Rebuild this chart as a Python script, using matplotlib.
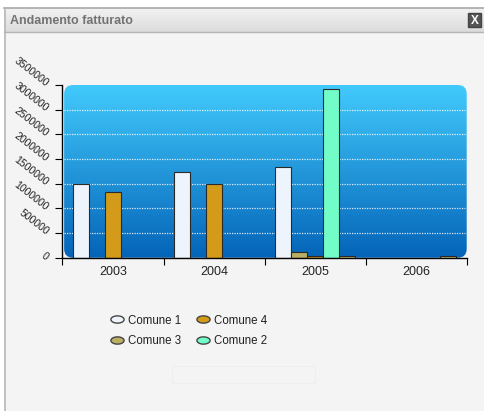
import numpy as np
import matplotlib
matplotlib.use("Agg")
import matplotlib.pyplot as plt
from matplotlib.patches import FancyBboxPatch, Rectangle
from matplotlib.path import Path
from matplotlib.lines import Line2D

# ---- data ----
years = ["2003", "2004", "2005", "2006"]
comune1 = [1500000, 1740000, 1830000, 0]
comune3 = [0, 0, 110000, 0]
comune4 = [1330000, 1500000, 40000, 0]
comune2 = [0, 0, 3415000, 0]
comune5 = [0, 0, 40000, 40000]   # extra unlabeled series (5th slot)
series_names = ["Comune 1", "Comune 3", "Comune 4", "Comune 2", None]
series_values = [comune1, comune3, comune4, comune2, comune5]
series_colors = ["#eef4fc", "#b9ae62", "#d49a1a", "#72fcc8", "#c9ba6c"]
y_ticks = [0, 500000, 1000000, 1500000, 2000000, 2500000, 3000000, 3500000]

W, H = 484, 411
fig = plt.figure(figsize=(W / 100, H / 100), dpi=100)
fig.patch.set_facecolor("#f4f4f4")

def fx(px):
    return px / W

def fy(py):
    return 1 - py / H

# ---- window chrome ----
fig.patches.append(Rectangle((0, fy(8)), 1, 1 - fy(8), transform=fig.transFigure,
                             facecolor="white", edgecolor="none", zorder=0))
fig.patches.append(Rectangle((0, 0), fx(4), 1, transform=fig.transFigure,
                             facecolor="white", edgecolor="none", zorder=0))
# title bar gradient
tb = fig.add_axes([fx(4), fy(32), 1 - fx(4), fy(8) - fy(32)])
grad_tb = np.linspace(0, 1, 64)[:, None]
c_top = np.array([0.95, 0.95, 0.95]); c_bot = np.array([0.86, 0.86, 0.86])
tb.imshow(c_top + (c_bot - c_top) * grad_tb[:, :, None] * np.ones((1, 2, 3)), aspect="auto",
          extent=[0, 1, 0, 1])
tb.set_xlim(0, 1); tb.set_ylim(0, 1); tb.axis("off")
fig.add_artist(Line2D([fx(4), 1], [fy(8.5), fy(8.5)], transform=fig.transFigure, color="#a8a8a8", lw=1.2))
fig.add_artist(Line2D([fx(4), 1], [fy(32), fy(32)], transform=fig.transFigure, color="#b4b4b4", lw=1))
fig.add_artist(Line2D([fx(4.5), fx(4.5)], [0, fy(8.5)], transform=fig.transFigure, color="#b8b8b8", lw=1.2))
fig.text(fx(10), fy(20.5), "Andamento fatturato", fontsize=9, fontweight="bold",
         family="Liberation Sans", color="#737373", ha="left", va="center")
fig.patches.append(Rectangle((fx(468), fy(27)), fx(13), fy(13) - fy(27), transform=fig.transFigure,
                             facecolor="#555555", edgecolor="#444444", zorder=2))
fig.text(fx(474.5), fy(20.5), "X", fontsize=8.5, fontweight="bold", family="Liberation Sans",
         color="white", ha="center", va="center", zorder=3)
# faint box near bottom
fig.patches.append(Rectangle((fx(172), fy(383)), fx(143), fy(366) - fy(383), transform=fig.transFigure,
                             facecolor="none", edgecolor="#eeeeee", lw=0.6, zorder=1))

# ---- chart axes ----
left, right, top, bottom = 62.5, 466.7, 85, 257.7
ax = fig.add_axes([fx(left), fy(bottom), fx(right) - fx(left), fy(top) - fy(bottom)])
ax.set_facecolor("none")
ax.set_xlim(0, len(years))
ax.set_ylim(0, 3500000)

aspect = ((right - left) / (bottom - top))
patch = FancyBboxPatch((0.004, 0), 0.996, 1, boxstyle="round,pad=0,rounding_size=0.022",
                       mutation_aspect=aspect, transform=ax.transAxes,
                       facecolor="none", edgecolor="none")
ax.add_patch(patch)
g = np.linspace(0, 1, 256)[:, None, None]
ctop = np.array([66, 202, 252]) / 255
cbot = np.array([4, 100, 184]) / 255
img = ctop + (cbot - ctop) * g
im = ax.imshow(img, aspect="auto", extent=[0, 1, 0, 1], transform=ax.transAxes, zorder=0)
im.set_clip_path(patch)

for yv in y_ticks[1:-1]:
    ax.axhline(yv, xmin=0.004, xmax=0.995, color="white", lw=0.9, ls=(0, (1, 1)), alpha=0.85, zorder=1)

nser = len(series_values)
bw = 16 / 101
x = np.arange(len(years)) + 0.5
for k, (vals, col) in enumerate(zip(series_values, series_colors)):
    v = np.array(vals, dtype=float)
    v[v == 0] = np.nan
    ax.bar(x + (k - (nser - 1) / 2) * bw, v, width=bw, color=col, edgecolor="#2a2a2a",
           lw=0.8, zorder=3)

for s in ["top", "right"]:
    ax.spines[s].set_visible(False)
for s in ["left", "bottom"]:
    ax.spines[s].set_color("black")
    ax.spines[s].set_linewidth(1)
    ax.spines[s].set_zorder(4)

ax.set_xticks(np.arange(len(years) + 1))
ax.set_xticklabels([])
ax.set_xticks(x, minor=True)
ax.set_xticklabels(years, minor=True, fontsize=9, family="Liberation Sans", color="#222222")
ax.tick_params(axis="x", which="major", length=5, direction="out", color="black")
ax.tick_params(axis="x", which="minor", length=0, pad=6)

ax.set_yticks(y_ticks)
ax.set_yticklabels([str(v) for v in y_ticks], fontsize=7.6, family="Liberation Sans",
                   color="#222222", rotation=-38, rotation_mode="anchor", ha="right", va="center")
ax.tick_params(axis="y", length=5, direction="out", color="black", pad=6)

# ---- legend ----
t = np.linspace(0, 2 * np.pi, 40)
ell = Path(np.column_stack([np.cos(t), 0.55 * np.sin(t)]), closed=True)
handles = []
labels = []
for name, col in zip(series_names, series_colors):
    if name is None:
        continue
    handles.append(Line2D([], [], ls="none", marker=ell, markersize=9.5, markerfacecolor=col,
                          markeredgecolor="#444444", markeredgewidth=1))
    labels.append(name)
leg = fig.legend(handles, labels, ncol=2, frameon=False, loc="upper left",
                 bbox_to_anchor=(fx(110.4), fy(314.5)), borderpad=0, borderaxespad=0,
                 handlelength=1.2, handletextpad=0.36, columnspacing=1.3, labelspacing=0.78,
                 prop={"family": "Liberation Sans", "size": 8.3})
for txt in leg.get_texts():
    txt.set_color("#222222")

fig.savefig("out.png", dpi=100, facecolor=fig.get_facecolor())
